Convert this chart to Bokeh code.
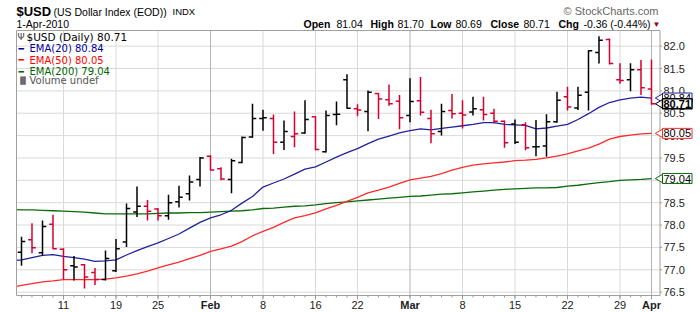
import math
import datetime as dt
from bokeh.plotting import figure
from bokeh.models import ColumnDataSource, Label, Range1d
from bokeh.embed import file_html
from bokeh.resources import INLINE

# ---------------- data ----------------
days = ["2010-01-04", "2010-01-05", "2010-01-06", "2010-01-07", "2010-01-08",
        "2010-01-11", "2010-01-12", "2010-01-13", "2010-01-14", "2010-01-15",
        "2010-01-19", "2010-01-20", "2010-01-21", "2010-01-22",
        "2010-01-25", "2010-01-26", "2010-01-27", "2010-01-28", "2010-01-29",
        "2010-02-01", "2010-02-02", "2010-02-03", "2010-02-04", "2010-02-05",
        "2010-02-08", "2010-02-09", "2010-02-10", "2010-02-11", "2010-02-12",
        "2010-02-16", "2010-02-17", "2010-02-18", "2010-02-19",
        "2010-02-22", "2010-02-23", "2010-02-24", "2010-02-25", "2010-02-26",
        "2010-03-01", "2010-03-02", "2010-03-03", "2010-03-04", "2010-03-05",
        "2010-03-08", "2010-03-09", "2010-03-10", "2010-03-11", "2010-03-12",
        "2010-03-15", "2010-03-16", "2010-03-17", "2010-03-18", "2010-03-19",
        "2010-03-22", "2010-03-23", "2010-03-24", "2010-03-25", "2010-03-26",
        "2010-03-29", "2010-03-30", "2010-03-31", "2010-04-01"]

# OHLC for 2010-01-05 .. 2010-04-01
open_ = [77.39, 77.67, 77.38, 78.02, 77.46, 77.09, 77.11, 76.94, 76.78, 76.98,
         77.62, 78.29, 78.42, 78.36, 78.21, 78.52, 78.70, 79.02, 79.54, 79.26,
         79.02, 79.40, 79.97, 80.38, 80.38, 79.85, 79.98, 80.06, 80.42, 79.64,
         80.47, 81.25, 80.60, 80.54, 80.94, 80.80, 80.77, 80.45, 80.78, 80.38,
         80.09, 80.56, 80.50, 80.53, 80.58, 80.50, 80.32, 80.26, 80.24, 79.75,
         79.77, 80.31, 80.87, 80.62, 80.97, 81.86, 82.15, 81.25, 81.25, 81.47,
         81.04]
high = [77.74, 78.04, 78.10, 78.23, 77.48, 77.31, 77.13, 77.04, 77.43, 77.69,
        78.48, 78.86, 78.56, 78.38, 78.68, 78.88, 79.11, 79.52, 79.56, 79.29,
        79.48, 79.98, 80.71, 80.58, 80.47, 80.34, 80.54, 80.79, 80.43, 80.56,
        80.76, 81.37, 80.70, 81.01, 80.95, 81.14, 80.91, 81.28, 81.31, 80.58,
        80.71, 80.93, 80.79, 80.87, 80.87, 80.60, 80.34, 80.36, 80.30, 80.35,
        80.48, 80.98, 81.09, 81.09, 81.91, 82.22, 82.17, 81.62, 81.62, 81.69,
        81.70]
low = [77.09, 77.37, 77.32, 77.46, 76.78, 76.76, 76.58, 76.66, 76.76, 76.95,
       77.51, 78.18, 78.10, 78.10, 78.12, 78.39, 78.55, 78.86, 79.22, 79.00,
       78.71, 79.38, 79.95, 80.11, 79.59, 79.68, 79.74, 80.04, 79.67, 79.62,
       80.23, 80.60, 80.43, 80.10, 80.37, 80.67, 80.14, 80.30, 80.45, 79.83,
       80.00, 80.38, 80.16, 80.45, 80.34, 80.27, 79.73, 79.81, 79.67, 79.54,
       79.53, 80.29, 80.56, 80.57, 80.56, 81.61, 81.59, 81.16, 80.99, 80.91,
       80.69]
close = [77.63, 77.49, 77.97, 77.47, 77.00, 77.06, 76.84, 76.78, 77.25, 77.47,
         78.37, 78.42, 78.31, 78.21, 78.50, 78.62, 78.96, 79.50, 79.23, 79.03,
         79.44, 79.96, 80.38, 80.40, 79.85, 80.09, 80.04, 80.36, 79.69, 80.45,
         80.48, 80.61, 80.57, 80.97, 80.82, 80.71, 80.40, 80.76, 80.52, 80.04,
         80.54, 80.49, 80.46, 80.60, 80.47, 80.32, 79.84, 79.85, 79.73, 79.75,
         80.31, 80.79, 80.64, 80.90, 81.90, 82.13, 81.61, 81.23, 81.47, 81.07,
         80.71]

# moving averages for 2010-01-04 .. 2010-04-01
ema20 = [77.20, 77.22, 77.27, 77.32, 77.34, 77.30, 77.27, 77.24, 77.19, 77.20,
         77.22, 77.33, 77.43, 77.52, 77.60, 77.70, 77.80, 77.93, 78.06, 78.16,
         78.23, 78.33, 78.49, 78.64, 78.85, 78.94, 79.03, 79.14, 79.25, 79.30,
         79.41, 79.52, 79.62, 79.71, 79.82, 79.92, 79.99, 80.06, 80.11, 80.15,
         80.13, 80.16, 80.19, 80.22, 80.25, 80.29, 80.29, 80.25, 80.24, 80.23,
         80.15, 80.17, 80.21, 80.25, 80.36, 80.49, 80.63, 80.74, 80.80, 80.84,
         80.86, 80.84]
ema50 = [76.60, 76.65, 76.69, 76.73, 76.75, 76.78, 76.78, 76.78, 76.78, 76.79,
         76.82, 76.86, 76.91, 76.97, 77.04, 77.11, 77.17, 77.25, 77.32, 77.41,
         77.47, 77.53, 77.63, 77.76, 77.86, 77.95, 78.06, 78.16, 78.21, 78.27,
         78.36, 78.44, 78.53, 78.62, 78.72, 78.78, 78.85, 78.93, 79.01, 79.05,
         79.09, 79.15, 79.23, 79.29, 79.34, 79.37, 79.39, 79.41, 79.44, 79.45,
         79.47, 79.50, 79.54, 79.59, 79.66, 79.72, 79.81, 79.92, 79.98, 80.01,
         80.04, 80.05]
ema200 = [78.35, 78.34, 78.34, 78.33, 78.32, 78.31, 78.30, 78.29, 78.27, 78.25,
          78.25, 78.25, 78.25, 78.25, 78.26, 78.27, 78.27, 78.28, 78.28, 78.29,
          78.30, 78.31, 78.32, 78.34, 78.37, 78.38, 78.40, 78.42, 78.43, 78.45,
          78.48, 78.50, 78.52, 78.54, 78.56, 78.58, 78.60, 78.62, 78.64, 78.65,
          78.67, 78.69, 78.70, 78.72, 78.74, 78.76, 78.78, 78.80, 78.81, 78.82,
          78.83, 78.83, 78.84, 78.87, 78.89, 78.92, 78.95, 78.97, 79.00, 79.01,
          79.02, 79.04]

y_ticks = [76.5, 77.0, 77.5, 78.0, 78.5, 79.0, 79.5, 80.0, 80.5, 81.0, 81.5, 82.0]

# ---------------- derived ----------------
d = [dt.date.fromisoformat(s) for s in days]
xi = list(range(-1, len(days) - 1))          # 2010-01-04 sits just left of the plot box
bar_x = xi[1:]
RED, BLACK = "#d6002f", "#000000"
colors = [BLACK] + [RED if close[k] < close[k - 1] else BLACK for k in range(1, len(close))]

day_ticks, day_labels, mon_ticks, mon_labels = [], [], [], []
for k in range(1, len(d)):
    if d[k].month != d[k - 1].month:
        mon_ticks.append(xi[k]); mon_labels.append(d[k].strftime("%b"))
    elif d[k].weekday() < d[k - 1].weekday():
        day_ticks.append(xi[k]); day_labels.append(str(d[k].day))

# ---------------- geometry ----------------
W, H = 700, 312
PL, PR, PT, PB = 16, 659.5, 30, 295          # plot box in page pixels
x_lo, x_hi = -0.476, 60.81
y_lo, y_hi = 76.425, 82.35
ux = (x_hi - x_lo) / (PR - PL)               # data units per pixel
uy = (y_hi - y_lo) / (PB - PT)
p = figure(width=W, height=H,
           x_range=Range1d(x_lo - PL * ux, x_hi + (W - PR) * ux),
           y_range=Range1d(y_lo - (H - PB) * uy, y_hi + PT * uy),
           x_axis_location=None, y_axis_location=None, toolbar_location=None,
           output_backend="svg", min_border=0)
p.outline_line_color = None
p.background_fill_color = "white"
p.border_fill_color = "white"
p.grid.visible = False

GRID = "#dadada"
# horizontal grid
p.segment(x0=[x_lo] * len(y_ticks), y0=y_ticks, x1=[x_hi] * len(y_ticks), y1=y_ticks,
          line_color=GRID, line_width=1)
# weekly / monthly grid
p.segment(x0=day_ticks, y0=[y_lo] * len(day_ticks), x1=day_ticks, y1=[y_hi] * len(day_ticks),
          line_color=GRID, line_width=1)
p.segment(x0=mon_ticks, y0=[y_lo] * len(mon_ticks), x1=mon_ticks, y1=[y_hi] * len(mon_ticks),
          line_color="#b4b4b4", line_width=1)

# moving averages
p.line(xi, ema200, line_color="#0b6b0b", line_width=1.3)
p.line(xi, ema50, line_color="#ff2a2a", line_width=1.3)
p.line(xi, ema20, line_color="#22229a", line_width=1.3)

# OHLC bars
tw = 0.36
src = ColumnDataSource(dict(x=bar_x, xl=[x - tw for x in bar_x], xr=[x + tw for x in bar_x],
                            o=open_, h=high, l=low, c=close, col=colors))
p.segment(x0="x", y0="l", x1="x", y1="h", line_color="col", line_width=1.5, source=src)
p.segment(x0="xl", y0="o", x1="x", y1="o", line_color="col", line_width=1.5, source=src)
p.segment(x0="x", y0="c", x1="xr", y1="c", line_color="col", line_width=1.5, source=src)

# mask left of the plot box, then the box outline
p.quad(left=x_lo - PL * ux, right=x_lo, bottom=y_lo - (H - PB) * uy, top=y_hi + PT * uy,
       fill_color="white", line_color=None)
p.quad(left=x_lo, right=x_hi, bottom=y_lo, top=y_hi, fill_color=None, line_color="#a0a0a0",
       line_width=1)

# axis ticks
p.segment(x0=bar_x, y0=[y_lo] * len(bar_x), x1=bar_x, y1=[y_lo - 2 * uy] * len(bar_x),
          line_color="#999999", line_width=1)
wk = day_ticks + mon_ticks
p.segment(x0=wk, y0=[y_lo] * len(wk), x1=wk, y1=[y_lo - 4 * uy] * len(wk),
          line_color="#999999", line_width=1)
p.segment(x0=[x_hi] * len(y_ticks), y0=y_ticks, x1=[x_hi + 2 * ux] * len(y_ticks), y1=y_ticks,
          line_color="#999999", line_width=1)


def lab(px, py, text, size="11px", bold=False, color="#000000", font="Liberation Sans",
        align="left"):
    p.add_layout(Label(x=px, y=H - py, x_units="screen", y_units="screen", text=text,
                       text_font=font, text_font_size=size,
                       text_font_style="bold" if bold else "normal",
                       text_color=color, text_align=align, text_baseline="middle"))


# x tick labels
for t, s in zip(day_ticks, day_labels):
    p.add_layout(Label(x=t, y=H - 304, y_units="screen", text=s, text_font="Liberation Sans",
                       text_font_size="11px", text_color="#222222", text_align="center",
                       text_baseline="middle"))
for t, s in zip(mon_ticks, mon_labels):
    p.add_layout(Label(x=t, y=H - 304, y_units="screen", text=s, text_font="Liberation Sans",
                       text_font_size="11px", text_font_style="bold", text_color="#222222",
                       text_align="center", text_baseline="middle"))
# y tick labels
for t in y_ticks:
    p.add_layout(Label(x=663, y=t, x_units="screen", text=f"{t:.1f}", text_font="Liberation Sans",
                       text_font_size="11px", text_color="#222222", text_align="left",
                       text_baseline="middle"))

# header
lab(16, 10.5, "$USD", "13px", True)
lab(53, 11, "(US Dollar Index (EOD))", "10.5px")
lab(172, 11, "INDX", "9.5px")
lab(16, 23.5, "1-Apr-2010", "10.5px")
lab(658, 10, "\u00a9 StockCharts.com", "11px", color="#666666", align="right")
hdr = [(303, "Open", True), (336, "81.04", False), (370, "High", True), (397, "81.70", False),
       (430, "Low", True), (455, "80.69", False), (490, "Close", True), (523, "80.71", False),
       (558, "Chg", True), (583, "-0.36 (-0.44%)", False)]
for hx, ht, hb in hdr:
    lab(hx, 23.5, ht, "10.5px", hb)
lab(652, 23.5, "\u25bc", "8px", color="#a0002a")

# legend inside plot
lab(17, 36, "\u03a8", "9px", color="#444444", font="DejaVu Sans")
lab(26, 36, "$USD (Daily) 80.71", "10.5px", font="DejaVu Sans")
for yy, txt, colr in [(48, "EMA(20) 80.84", "#000099"), (59.5, "EMA(50) 80.05", "#ff0000"),
                      (71, "EMA(200) 79.04", "#006600")]:
    lab(18, yy, "\u2501", "9px", color=colr, font="DejaVu Sans")
    lab(29, yy, txt, "10px", color=colr, font="DejaVu Sans")
lab(17, 80, "\u2590\u258c", "7px", color="#666666", font="DejaVu Sans")
lab(29, 80, "Volume undef", "10px", color="#555555", font="DejaVu Sans")

# value markers on the price axis
mk = [(ema20[-1], "#22229a", False), (close[-1], "#000000", True),
      (ema50[-1], "#ff2a2a", False), (ema200[-1], "#0b6b0b", False)]
p.scatter(x=[x_hi + 0.5 * ux] * len(mk), y=[m[0] for m in mk], marker="triangle",
          angle=math.pi / 2, size=9, fill_color="white", line_color=[m[1] for m in mk])
for val, colr, bold in mk:
    p.add_layout(Label(x=662, y=val, x_units="screen", text=f"{val:.2f}",
                       text_font="Liberation Sans", text_font_size="11px",
                       text_font_style="bold" if bold else "normal", text_color="#000000",
                       text_baseline="middle", background_fill_color="white",
                       border_line_color=colr, border_line_width=1.5 if bold else 1,
                       padding=1))

open("out.html", "w").write(file_html(p, INLINE))
